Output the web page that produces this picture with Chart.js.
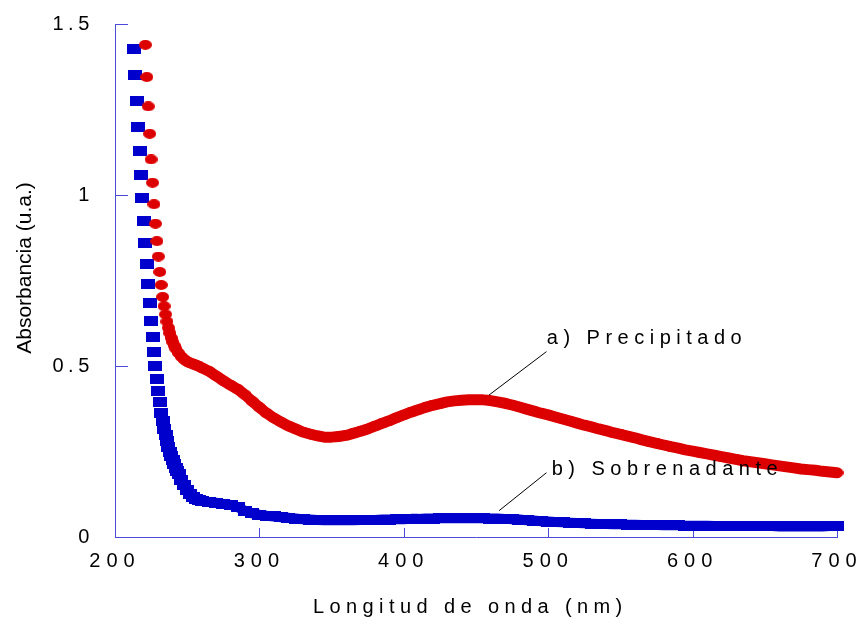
<!DOCTYPE html>
<html>
<head>
<meta charset="utf-8">
<script src="https://cdn.jsdelivr.net/npm/chart.js@4.4.0/dist/chart.umd.min.js"></script>
<style>
  html, body { margin: 0; background: #fff; }
  #wrap { width: 860px; height: 626px; }
</style>
</head>
<body>
<div id="wrap"><canvas id="myChart" width="860" height="626"></canvas></div>
<script>
// Sobrenadante (azul)
const wlSobre = [
  213, 214, 215, 216, 217, 218, 219, 220, 221, 222, 223, 224, 225, 226, 227, 228, 229, 230, 231, 232,
  233, 234, 235, 236, 237, 238, 239, 240, 241, 242, 243, 244, 246, 248, 250, 252, 254, 256, 258, 260,
  265, 270, 275, 280, 285, 290, 295, 300, 305, 310, 315, 320, 325, 330, 335, 340, 345, 350, 355, 360,
  365, 370, 375, 380, 385, 390, 395, 400, 405, 410, 415, 420, 425, 430, 435, 440, 445, 450, 455, 460,
  465, 470, 475, 480, 485, 490, 495, 500, 505, 510, 515, 520, 525, 530, 535, 540, 545, 550, 555, 560,
  565, 570, 575, 580, 585, 590, 595, 600, 605, 610, 615, 620, 625, 630, 635, 640, 645, 650, 655, 660,
  665, 670, 675, 680, 685, 690, 695, 700
];
const absSobre = [
  1.427, 1.351, 1.275, 1.200, 1.129, 1.058, 0.991, 0.923, 0.861, 0.797, 0.739, 0.683, 0.632, 0.586, 0.540, 0.501, 0.462, 0.427, 0.394, 0.363,
  0.338, 0.316, 0.297, 0.280, 0.264, 0.250, 0.237, 0.225, 0.213, 0.202, 0.192, 0.183, 0.167, 0.152, 0.137, 0.126, 0.118, 0.112, 0.108, 0.105,
  0.102, 0.100, 0.097, 0.094, 0.087, 0.077, 0.069, 0.065, 0.062, 0.060, 0.058, 0.056, 0.054, 0.052, 0.051, 0.050, 0.049, 0.049, 0.049, 0.049,
  0.049, 0.050, 0.050, 0.050, 0.051, 0.051, 0.052, 0.052, 0.053, 0.053, 0.054, 0.054, 0.055, 0.055, 0.055, 0.055, 0.055, 0.055, 0.055, 0.054,
  0.054, 0.053, 0.052, 0.051, 0.049, 0.048, 0.046, 0.045, 0.044, 0.043, 0.042, 0.041, 0.040, 0.039, 0.038, 0.038, 0.037, 0.037, 0.036, 0.036,
  0.035, 0.035, 0.035, 0.034, 0.034, 0.034, 0.033, 0.033, 0.033, 0.033, 0.032, 0.032, 0.032, 0.032, 0.032, 0.032, 0.032, 0.032, 0.032, 0.031,
  0.031, 0.031, 0.031, 0.031, 0.031, 0.031, 0.032, 0.032
];

// Precipitado (rojo)
const wlPrecip = [
  221, 222, 223, 224, 225, 226, 227, 228, 229, 230, 231, 232, 233, 234, 235, 236, 237, 238, 239, 240,
  241, 242, 244, 246, 248, 250, 252, 254, 256, 258, 260,
  265, 270, 275, 280, 285, 290, 295, 300, 305, 310, 315, 320, 325, 330, 335, 340, 345, 350, 355, 360,
  365, 370, 375, 380, 385, 390, 395, 400, 405, 410, 415, 420, 425, 430, 435, 440, 445, 450, 455, 460,
  465, 470, 475, 480, 485, 490, 495, 500, 505, 510, 515, 520, 525, 530, 535, 540, 545, 550, 555, 560,
  565, 570, 575, 580, 585, 590, 595, 600, 605, 610, 615, 620, 625, 630, 635, 640, 645, 650, 655, 660,
  665, 670, 675, 680, 685, 690, 695, 700
];
const absPrecip = [
  1.439, 1.345, 1.259, 1.179, 1.104, 1.036, 0.973, 0.916, 0.865, 0.820, 0.775, 0.737, 0.702, 0.675, 0.651, 0.630, 0.612, 0.596, 0.582, 0.570,
  0.560, 0.551, 0.538, 0.527, 0.519, 0.513, 0.509, 0.506, 0.503, 0.499, 0.495,
  0.485, 0.471, 0.457, 0.444, 0.432, 0.416, 0.397, 0.379, 0.362, 0.348, 0.336, 0.325, 0.316, 0.307, 0.301, 0.296, 0.292, 0.292, 0.294, 0.297,
  0.303, 0.309, 0.316, 0.324, 0.332, 0.340, 0.349, 0.357, 0.365, 0.372, 0.379, 0.385, 0.390, 0.395, 0.398, 0.400, 0.401, 0.401, 0.401, 0.399,
  0.395, 0.391, 0.386, 0.380, 0.374, 0.368, 0.362, 0.357, 0.351, 0.345, 0.339, 0.333, 0.327, 0.322, 0.316, 0.311, 0.305, 0.300, 0.295, 0.290,
  0.284, 0.279, 0.274, 0.269, 0.264, 0.260, 0.255, 0.251, 0.247, 0.243, 0.239, 0.235, 0.231, 0.227, 0.223, 0.220, 0.217, 0.214, 0.211, 0.208,
  0.205, 0.202, 0.199, 0.197, 0.195, 0.192, 0.190, 0.188
];

// etiquetas con linea guia (en unidades de datos)
const etiquetas = [
  { text: "a) Precipitado", x: 499, y: 0.564, from: [498.8, 0.542], to: [459, 0.415] },
  { text: "b) Sobrenadante", x: 502.4, y: 0.181, from: [498.8, 0.188], to: [466, 0.077] }
];

const FONT = "'Liberation Sans', Arial, sans-serif";
const AXIS_COLOR = "#4b4bd8";

function makeMarker(w, h, color, round) {
  const c = document.createElement("canvas");
  c.width = w;
  c.height = h;
  const g = c.getContext("2d");
  g.fillStyle = color;
  if (round) {
    g.beginPath();
    g.ellipse(w / 2, h / 2, w / 2, h / 2, 0, 0, Math.PI * 2);
    g.fill();
  } else {
    g.fillRect(0, 0, w, h);
  }
  return c;
}

const toPoints = (xs, ys) => xs.map((x, i) => ({ x: x, y: ys[i] }));

// solo une los puntos donde la curva ya es densa (no en la subida inicial, paso de 1 nm)
const gapColor = (c) =>
  Math.abs(c.p1.x - c.p0.x) < 2 && Math.abs(c.p1.y - c.p0.y) > 6 ? "transparent" : undefined;

const noPadding = (s) => {
  s.paddingTop = 0;
  s.paddingBottom = 0;
  s.paddingLeft = 0;
  s.paddingRight = 0;
};

const extras = {
  id: "extras",
  beforeDraw(chart) {
    chart.ctx.letterSpacing = "6px"; // numeros del eje x espaciados
  },
  beforeDatasetsDraw(chart) {
    const { ctx, chartArea, scales } = chart;
    ctx.save();
    ctx.strokeStyle = AXIS_COLOR;
    ctx.lineWidth = 1;
    ctx.beginPath();
    scales.x.ticks.forEach((t) => {
      const px = Math.round(scales.x.getPixelForValue(t.value)) + 0.5;
      ctx.moveTo(px, chartArea.bottom);
      ctx.lineTo(px, chartArea.bottom - 9);
    });
    scales.y.ticks.forEach((t) => {
      const py = Math.round(scales.y.getPixelForValue(t.value)) + 0.5;
      ctx.moveTo(chartArea.left, py);
      ctx.lineTo(chartArea.left + 13, py);
    });
    ctx.stroke();
    ctx.restore();
  },
  afterDatasetsDraw(chart) {
    chart.ctx.letterSpacing = "4.6px"; // numeros del eje y (dibujados despues, z = 1)
  },
  afterDraw(chart) {
    const { ctx, scales } = chart;
    ctx.save();
    ctx.fillStyle = "#000";
    ctx.textBaseline = "alphabetic";

    // titulo eje x
    ctx.letterSpacing = "5.4px";
    ctx.font = "20px " + FONT;
    ctx.textAlign = "left";
    ctx.fillText("Longitud de onda (nm)", 313, 613);

    // titulo eje y
    ctx.save();
    ctx.letterSpacing = "0px";
    ctx.font = "21px " + FONT;
    ctx.translate(31, 268);
    ctx.rotate(-Math.PI / 2);
    ctx.textAlign = "center";
    ctx.fillText("Absorbancia (u.a.)", 0, 0);
    ctx.restore();

    // etiquetas de las curvas
    etiquetas.forEach((e) => {
      ctx.strokeStyle = "#000";
      ctx.lineWidth = 1;
      ctx.beginPath();
      ctx.moveTo(scales.x.getPixelForValue(e.from[0]), scales.y.getPixelForValue(e.from[1]));
      ctx.lineTo(scales.x.getPixelForValue(e.to[0]), scales.y.getPixelForValue(e.to[1]));
      ctx.stroke();
      ctx.letterSpacing = "5.5px";
      ctx.font = "20px " + FONT;
      ctx.textAlign = "left";
      ctx.fillText(e.text, scales.x.getPixelForValue(e.x), scales.y.getPixelForValue(e.y));
    });
    ctx.restore();
  },
};

document.addEventListener("DOMContentLoaded", () => {
  const ctx = document.getElementById("myChart").getContext("2d");

  new Chart(ctx, {
    type: "scatter",
    data: {
      datasets: [
        {
          label: "a) Precipitado",
          data: toPoints(wlPrecip, absPrecip),
          pointStyle: makeMarker(13, 10, "#dd0000", true),
          pointRadius: 6,
          showLine: true,
          borderColor: "#dd0000",
          borderWidth: 11,
          borderCapStyle: "round",
          borderJoinStyle: "round",
          segment: { borderColor: gapColor },
          clip: false,
        },
        {
          label: "b) Sobrenadante",
          data: toPoints(wlSobre, absSobre),
          pointStyle: makeMarker(14, 10, "#0000cc", false),
          pointRadius: 6,
          showLine: true,
          borderColor: "#0000cc",
          borderWidth: 10,
          borderJoinStyle: "round",
          segment: { borderColor: gapColor },
          clip: false,
        },
      ],
    },
    options: {
      responsive: false,
      animation: false,
      events: [],
      layout: { padding: { top: 24, right: 23, left: 0, bottom: 0 } },
      plugins: {
        legend: { display: false },
        tooltip: { enabled: false },
      },
      scales: {
        x: {
          type: "linear",
          position: "bottom",
          min: 200,
          max: 700,
          afterFit: (s) => { s.height = 89; noPadding(s); },
          grid: { display: false, drawTicks: false },
          border: { display: true, color: AXIS_COLOR, width: 1 },
          ticks: {
            stepSize: 100,
            padding: 12,
            maxRotation: 0,
            color: "#000",
            font: { family: FONT, size: 20 },
          },
        },
        y: {
          type: "linear",
          min: 0,
          max: 1.5,
          afterFit: (s) => { s.width = 115; noPadding(s); },
          grid: { display: false, drawTicks: false },
          border: { display: true, color: AXIS_COLOR, width: 1 },
          ticks: {
            stepSize: 0.5,
            padding: 21,
            z: 1,
            color: "#000",
            font: { family: FONT, size: 20 },
            callback: (v) => String(v),
          },
        },
      },
    },
    plugins: [extras],
  });
});
</script>
</body>
</html>
